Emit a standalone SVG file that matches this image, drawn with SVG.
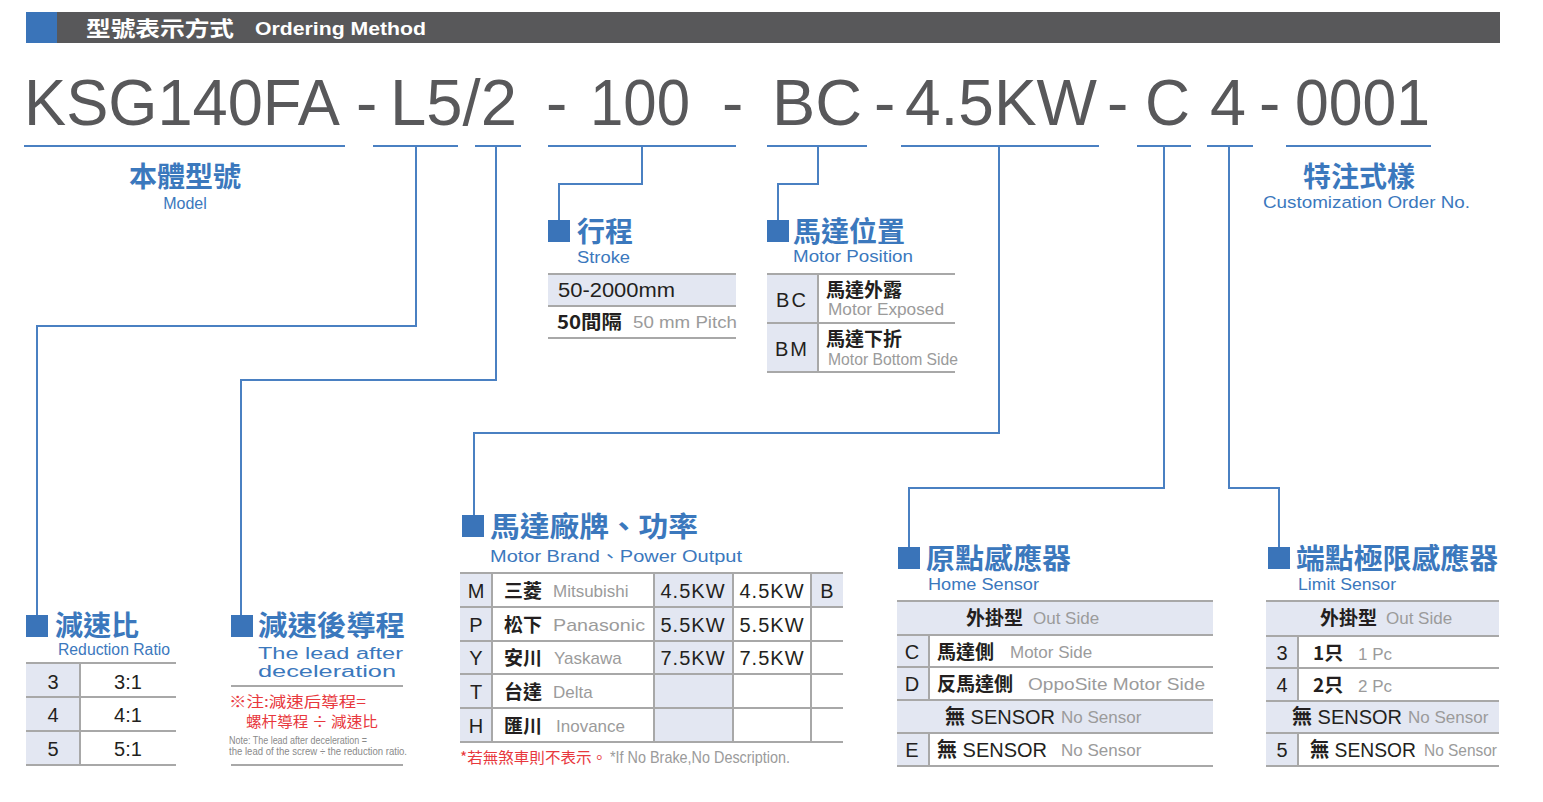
<svg xmlns="http://www.w3.org/2000/svg" width="1543" height="802" viewBox="0 0 1543 802">
<style>
.bgw{fill:#ffffff}
.code{fill:#58585a;font-family:"Liberation Sans",Arial,sans-serif;font-size:64px}
.hd{fill:#3b78bd;font-family:"Noto Sans CJK TC","Liberation Sans",sans-serif;font-weight:bold;font-size:28px}
.sub{fill:#3b78bd;font-family:"Liberation Sans","Noto Sans CJK TC",sans-serif;font-size:16px}
.c{fill:#231f20;font-family:"Liberation Sans","Noto Sans CJK TC",sans-serif;font-size:20px}
.cj{fill:#231f20;font-family:"Noto Sans CJK TC","Liberation Sans",sans-serif;font-weight:bold;font-size:19px}
.g{fill:#9b9b9b;font-family:"Liberation Sans",sans-serif;font-size:17px}
.red{fill:#e8383d;font-family:"Noto Sans CJK TC","Liberation Sans",sans-serif;font-size:15px}
.note{fill:#8a8a8a;font-family:"Liberation Sans Narrow","Liberation Sans",sans-serif;font-size:10.5px}
.grid{stroke:#a8a8a8;stroke-width:2;fill:none}
.conn{stroke:#4a80c2;stroke-width:2;fill:none}
.sq{fill:#3a74b9}
.lb{fill:#e3e7f2}
.mid{text-anchor:middle}
</style>
<rect class="bgw" x="0" y="0" width="1543" height="802"/>

<g id="header">
<rect x="26" y="12" width="1474" height="31" fill="#58585a"/>
<rect x="26" y="12" width="31" height="31" class="sq"/>
<text x="86" y="36" fill="#ffffff" font-family="Noto Sans CJK TC,sans-serif" font-size="21" font-weight="bold" textLength="148" lengthAdjust="spacingAndGlyphs">型號表示方式</text>
<text x="255" y="35" fill="#ffffff" font-family="Liberation Sans,sans-serif" font-size="19" font-weight="bold" textLength="171" lengthAdjust="spacingAndGlyphs">Ordering Method</text>
</g>

<g id="code">
<text class="code" x="24" y="125" textLength="316" lengthAdjust="spacingAndGlyphs">KSG140FA</text>
<text class="code" x="356" y="125">-</text>
<text class="code" x="390" y="125" textLength="127" lengthAdjust="spacingAndGlyphs">L5/2</text>
<text class="code" x="546" y="125">-</text>
<text class="code" x="590" y="125" textLength="100" lengthAdjust="spacingAndGlyphs">100</text>
<text class="code" x="722" y="125">-</text>
<text class="code" x="772" y="125" textLength="90" lengthAdjust="spacingAndGlyphs">BC</text>
<text class="code" x="874" y="125">-</text>
<text class="code" x="905" y="125" textLength="192" lengthAdjust="spacingAndGlyphs">4.5KW</text>
<text class="code" x="1107" y="125">-</text>
<text class="code" x="1145" y="125" textLength="45" lengthAdjust="spacingAndGlyphs">C</text>
<text class="code" x="1210" y="125" textLength="36" lengthAdjust="spacingAndGlyphs">4</text>
<text class="code" x="1259" y="125">-</text>
<text class="code" x="1295" y="125" textLength="135" lengthAdjust="spacingAndGlyphs">0001</text>
</g>

<g id="connectors">
<path class="conn" d="M24,146H345 M373,146H458 M475,146H521 M548,146H736 M767,146H867 M901,146H1099 M1137,146H1191 M1207,146H1253 M1286,146H1431"/>
<path class="conn" d="M416,146V326H37V615"/>
<path class="conn" d="M496,146V380H241V615"/>
<path class="conn" d="M642,146V184H559V220"/>
<path class="conn" d="M818,146V184H778V220"/>
<path class="conn" d="M999,146V433H474V515"/>
<path class="conn" d="M1164,146V488H909V547"/>
<path class="conn" d="M1229,146V488H1279V547"/>
</g>

<g id="model">
<text class="hd mid" x="185" y="187">本體型號</text>
<text class="sub mid" x="185" y="209" font-size="17">Model</text>
</g>

<g id="custom">
<text class="hd mid" x="1359" y="187">特注式樣</text>
<text class="sub" x="1263" y="208" textLength="207" lengthAdjust="spacingAndGlyphs">Customization Order No.</text>
</g>

<g id="stroke">
<rect class="sq" x="548" y="220" width="22" height="22"/>
<text class="hd" x="577" y="242">行程</text>
<text class="sub" x="577" y="263" textLength="53" lengthAdjust="spacingAndGlyphs">Stroke</text>
<rect class="lb" x="548" y="274" width="188" height="32"/>
<path class="grid" d="M548,274H736 M548,306H736 M548,338H736"/>
<text class="c" x="558" y="297" font-size="18" textLength="117" lengthAdjust="spacingAndGlyphs">50-2000mm</text>
<text class="cj" x="557" y="329" font-size="18" textLength="65" lengthAdjust="spacingAndGlyphs">50間隔</text>
<text class="g" x="633" y="328" textLength="104" lengthAdjust="spacingAndGlyphs">50 mm Pitch</text>
</g>

<g id="motor-position">
<rect class="sq" x="767" y="220" width="22" height="22"/>
<text class="hd" x="793" y="242">馬達位置</text>
<text class="sub" x="793" y="262" textLength="120" lengthAdjust="spacingAndGlyphs">Motor Position</text>
<rect class="lb" x="767" y="274" width="51" height="98"/>
<path class="grid" d="M767,274H955 M767,323H955 M767,372H955 M818,274V372"/>
<text class="c mid" x="792" y="307" font-size="21" letter-spacing="2">BC</text>
<text class="cj" x="826" y="297">馬達外露</text>
<text class="g" x="828" y="315" font-size="15" textLength="116" lengthAdjust="spacingAndGlyphs">Motor Exposed</text>
<text class="c mid" x="792" y="356" font-size="21" letter-spacing="2">BM</text>
<text class="cj" x="826" y="346">馬達下折</text>
<text class="g" x="828" y="365" font-size="15" textLength="130" lengthAdjust="spacingAndGlyphs">Motor Bottom Side</text>
</g>

<g id="reduction">
<rect class="sq" x="26" y="615" width="22" height="22"/>
<text class="hd" x="55" y="636">減速比</text>
<text class="sub" x="58" y="655" font-size="15" textLength="112" lengthAdjust="spacingAndGlyphs">Reduction Ratio</text>
<rect class="lb" x="26" y="663" width="54" height="102"/>
<path class="grid" d="M26,663H176 M26,697H176 M26,731H176 M26,765H176 M80,663V765"/>
<text class="c mid" x="53" y="689">3</text>
<text class="c mid" x="128" y="689">3:1</text>
<text class="c mid" x="53" y="722">4</text>
<text class="c mid" x="128" y="722">4:1</text>
<text class="c mid" x="53" y="756">5</text>
<text class="c mid" x="128" y="756">5:1</text>
</g>

<g id="lead">
<rect class="sq" x="231" y="615" width="22" height="22"/>
<text class="hd" x="258" y="636" textLength="147" lengthAdjust="spacingAndGlyphs">減速後導程</text>
<text class="sub" x="258" y="659" font-size="21" textLength="145" lengthAdjust="spacingAndGlyphs">The lead after</text>
<text class="sub" x="258" y="677" font-size="21" textLength="138" lengthAdjust="spacingAndGlyphs">deceleration</text>
<path class="grid" d="M231,686H403 M231,765H403"/>
<text class="red" x="229" y="707" textLength="137" lengthAdjust="spacingAndGlyphs">※注:減速后導程=</text>
<text class="red" x="246" y="727" textLength="132" lengthAdjust="spacingAndGlyphs">螺杆導程 ÷ 減速比</text>
<text class="note" x="229" y="744" textLength="138" lengthAdjust="spacingAndGlyphs">Note: The lead after deceleration =</text>
<text class="note" x="229" y="755" textLength="178" lengthAdjust="spacingAndGlyphs">the lead of the screw ÷ the reduction ratio.</text>
</g>

<g id="motor-brand">
<rect class="sq" x="462" y="515" width="22" height="22"/>
<text class="hd" x="490" y="537" textLength="208" lengthAdjust="spacingAndGlyphs">馬達廠牌、功率</text>
<text class="sub" x="490" y="562" font-size="17" textLength="252" lengthAdjust="spacingAndGlyphs">Motor Brand、Power Output</text>
<rect class="lb" x="460" y="573" width="32" height="169"/>
<rect class="lb" x="654" y="573" width="79" height="169"/>
<rect class="lb" x="811" y="573" width="32" height="34"/>
<path class="grid" d="M460,573H843 M460,607H843 M460,641H843 M460,674H843 M460,708H843 M460,742H843 M492,573V742 M654,573V742 M733,573V742 M811,573V742"/>
<text class="c mid" x="476" y="598" font-size="21">M</text>
<text class="cj" x="504" y="598">三菱</text>
<text class="g" x="553" y="597">Mitsubishi</text>
<text class="c mid" x="693" y="598" letter-spacing="1">4.5KW</text>
<text class="c mid" x="772" y="598" letter-spacing="1">4.5KW</text>
<text class="c mid" x="827" y="598" font-size="21">B</text>
<text class="c mid" x="476" y="632" font-size="21">P</text>
<text class="cj" x="504" y="632">松下</text>
<text class="g" x="553" y="631" textLength="92" lengthAdjust="spacingAndGlyphs">Panasonic</text>
<text class="c mid" x="693" y="632" letter-spacing="1">5.5KW</text>
<text class="c mid" x="772" y="632" letter-spacing="1">5.5KW</text>
<text class="c mid" x="476" y="665" font-size="21">Y</text>
<text class="cj" x="504" y="665">安川</text>
<text class="g" x="554" y="664">Yaskawa</text>
<text class="c mid" x="693" y="665" letter-spacing="1">7.5KW</text>
<text class="c mid" x="772" y="665" letter-spacing="1">7.5KW</text>
<text class="c mid" x="476" y="699" font-size="21">T</text>
<text class="cj" x="504" y="699">台達</text>
<text class="g" x="553" y="698">Delta</text>
<text class="c mid" x="476" y="733" font-size="21">H</text>
<text class="cj" x="504" y="733">匯川</text>
<text class="g" x="556" y="732">Inovance</text>
<text class="red" x="460" y="763" textLength="147" lengthAdjust="spacingAndGlyphs">*若無煞車則不表示。</text>
<text class="g" x="610" y="763" font-size="14" textLength="180" lengthAdjust="spacingAndGlyphs">*If No Brake,No Description.</text>
</g>

<g id="home-sensor">
<rect class="sq" x="898" y="547" width="22" height="22"/>
<text class="hd" x="926" y="569" textLength="145" lengthAdjust="spacingAndGlyphs">原點感應器</text>
<text class="sub" x="928" y="590" font-size="17" textLength="111" lengthAdjust="spacingAndGlyphs">Home Sensor</text>
<rect class="lb" x="897" y="601" width="316" height="34"/>
<rect class="lb" x="897" y="635" width="32" height="65"/>
<rect class="lb" x="897" y="700" width="316" height="33"/>
<rect class="lb" x="897" y="733" width="32" height="33"/>
<path class="grid" d="M897,601H1213 M897,635H1213 M897,667H1213 M897,700H1213 M897,733H1213 M897,766H1213 M929,635V700 M929,733V766"/>
<text class="cj" x="966" y="625">外掛型</text>
<text class="g" x="1033" y="624">Out Side</text>
<text class="c mid" x="912" y="659" font-size="21">C</text>
<text class="cj" x="937" y="659">馬達側</text>
<text class="g" x="1010" y="658">Motor Side</text>
<text class="c mid" x="912" y="691" font-size="21">D</text>
<text class="cj" x="937" y="691">反馬達側</text>
<text class="g" x="1028" y="690" textLength="177" lengthAdjust="spacingAndGlyphs">OppoSite Motor Side</text>
<text class="c" x="945" y="724" font-size="19"><tspan font-family="Noto Sans CJK TC" font-weight="bold">無</tspan> SENSOR</text>
<text class="g" x="1061" y="723">No Sensor</text>
<text class="c mid" x="912" y="757" font-size="21">E</text>
<text class="c" x="937" y="757" font-size="19"><tspan font-family="Noto Sans CJK TC" font-weight="bold">無</tspan> SENSOR</text>
<text class="g" x="1061" y="756">No Sensor</text>
</g>

<g id="limit-sensor">
<rect class="sq" x="1268" y="547" width="22" height="22"/>
<text class="hd" x="1296" y="569" textLength="202" lengthAdjust="spacingAndGlyphs">端點極限感應器</text>
<text class="sub" x="1298" y="590" font-size="17" textLength="98" lengthAdjust="spacingAndGlyphs">Limit Sensor</text>
<rect class="lb" x="1266" y="601" width="233" height="35"/>
<rect class="lb" x="1266" y="636" width="32" height="65"/>
<rect class="lb" x="1266" y="701" width="233" height="32"/>
<rect class="lb" x="1266" y="733" width="32" height="33"/>
<path class="grid" d="M1266,601H1499 M1266,636H1499 M1266,668H1499 M1266,701H1499 M1266,733H1499 M1266,766H1499 M1298,636V701 M1298,733V766"/>
<text class="cj" x="1320" y="625">外掛型</text>
<text class="g" x="1386" y="624">Out Side</text>
<text class="c mid" x="1282" y="660" font-size="21">3</text>
<text class="cj" x="1313" y="660">1只</text>
<text class="g" x="1358" y="660" font-size="14">1 Pc</text>
<text class="c mid" x="1282" y="692" font-size="21">4</text>
<text class="cj" x="1313" y="692">2只</text>
<text class="g" x="1358" y="692" font-size="14">2 Pc</text>
<text class="c" x="1292" y="724" font-size="19"><tspan font-family="Noto Sans CJK TC" font-weight="bold">無</tspan> SENSOR</text>
<text class="g" x="1408" y="723">No Sensor</text>
<text class="c mid" x="1282" y="757" font-size="21">5</text>
<text class="c" x="1310" y="757" font-size="19" textLength="106" lengthAdjust="spacingAndGlyphs"><tspan font-family="Noto Sans CJK TC" font-weight="bold">無</tspan> SENSOR</text>
<text class="g" x="1424" y="756" font-size="16" textLength="73" lengthAdjust="spacingAndGlyphs">No Sensor</text>
</g>
</svg>
